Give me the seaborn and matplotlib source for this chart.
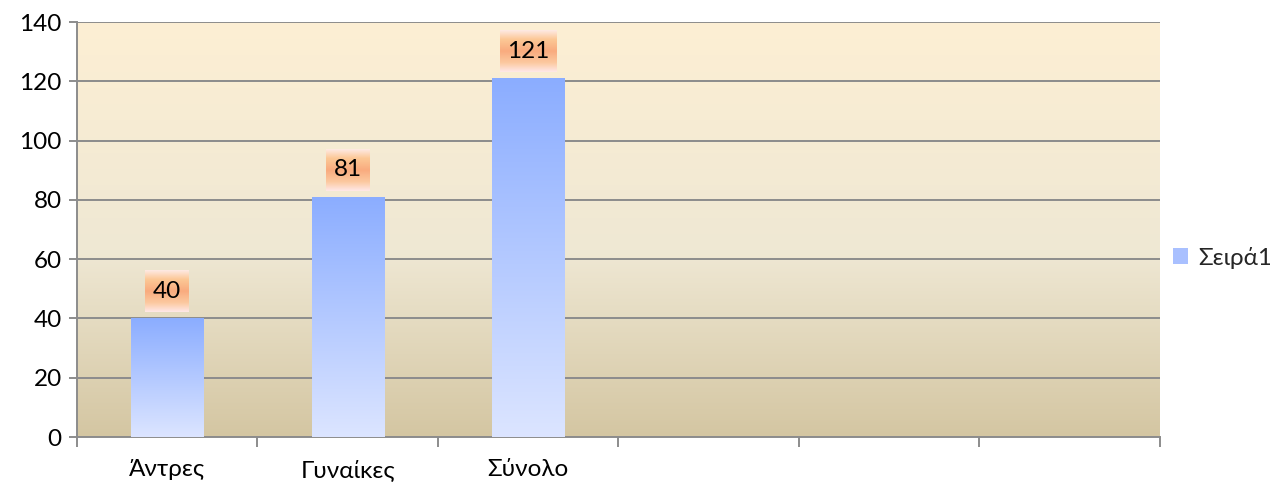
import numpy as np
import matplotlib
matplotlib.use("Agg")
import matplotlib.pyplot as plt
import seaborn as sns
from matplotlib.colors import LinearSegmentedColormap
from matplotlib.patches import Patch

# data
categories = ["Άντρες", "Γυναίκες", "Σύνολο"]
values = [40, 81, 121]
n_slots = 6  # chart keeps room for 6 categories
series_name = "Σειρά1"
y_ticks = [0, 20, 40, 60, 80, 100, 120, 140]

sns.set_theme(style="white")
plt.rcParams['font.family'] = ['Lato', 'DejaVu Sans']
FS = 17.5

fig = plt.figure(figsize=(12.7, 4.86), dpi=100)
ax = fig.add_axes([0.0606, 0.1008, 0.8524, 0.8539])

# background gradient (tan at bottom -> cream at top)
bg_cmap = LinearSegmentedColormap.from_list(
    "bg", [(0.0, "#d4c6a2"), (0.45, "#efe8d4"), (1.0, "#fdefd3")])
grad = np.linspace(0, 1, 256).reshape(-1, 1)
ax.imshow(grad, cmap=bg_cmap, origin="lower", aspect="auto",
          extent=[0, 1, 0, 1], transform=ax.transAxes, zorder=0)

sns.barplot(x=categories, y=values, width=0.4, color="#a9c0ff", ax=ax, zorder=2)

ax.set_xlim(-0.5, n_slots - 0.5)
ax.set_ylim(0, 140)
ax.set_yticks(y_ticks)

# bars: vertical blue gradient clipped to each bar
bar_cmap = LinearSegmentedColormap.from_list("bar", ["#dce5ff", "#8badff"])
for p in ax.patches:
    x0, y0, w, h = p.get_x(), p.get_y(), p.get_width(), p.get_height()
    im = ax.imshow(grad, cmap=bar_cmap, origin="lower", aspect="auto",
                   extent=[x0, x0 + w, y0, y0 + h], zorder=3)
    im.set_clip_path(p)
    p.set_facecolor("none")
    p.set_edgecolor("none")

# grid and axes
ax.yaxis.grid(True, color="#8c8c8c", linewidth=1.4, zorder=1)
ax.xaxis.grid(False)
ax.set_axisbelow(True)
for s in ["top", "right"]:
    ax.spines[s].set_visible(False)
for s in ["left", "bottom"]:
    ax.spines[s].set_color("#8c8c8c")
    ax.spines[s].set_linewidth(1.4)

ax.set_xticks(np.arange(-0.5, n_slots, 1.0))
ax.set_xticklabels([])
ax.set_xticks(range(len(categories)), minor=True)
ax.set_xticklabels(categories, minor=True)
ax.tick_params(axis="x", which="major", length=7, width=1.4, color="#8c8c8c",
               direction="out", bottom=True)
ax.tick_params(axis="x", which="minor", length=0, pad=16, labelsize=FS,
               labelcolor="black", bottom=True)
ax.tick_params(axis="y", length=6, width=1.4, color="#8c8c8c", direction="out",
               left=True, labelsize=FS, labelcolor="black", pad=5)
ax.set_xlabel("")
ax.set_ylabel("")

# data labels with orange gradient boxes
lab_cmap = LinearSegmentedColormap.from_list(
    "lab", [(0.0, "#ffe8e8"), (0.22, "#fcc9a0"), (0.5, "#f9ab7e"),
            (0.78, "#fcc896"), (1.0, "#feeae4")])
to_data = ax.transData.inverted()
for i, v in enumerate(values):
    bx, by = ax.transData.transform((i, v))
    w_px = 13 * len(str(v)) + 18
    x_l, y_b = to_data.transform((bx - w_px / 2, by + 6))
    x_r, y_t = to_data.transform((bx + w_px / 2, by + 48))
    ax.imshow(grad, cmap=lab_cmap, origin="lower", aspect="auto",
              extent=[x_l, x_r, y_b, y_t], zorder=4)
    ax.text(i, (y_b + y_t) / 2, str(v), ha="center", va="center",
            fontsize=FS, color="black", zorder=5)

ax.set_xlim(-0.5, n_slots - 0.5)
ax.set_ylim(0, 140)

# legend
handle = Patch(facecolor="#a9c0ff", edgecolor="none", label=series_name)
fig.legend(handles=[handle], loc="center left", bbox_to_anchor=(0.924, 0.47),
           frameon=False, fontsize=FS, handlelength=0.6, handleheight=0.6,
           handletextpad=0.4, borderaxespad=0, borderpad=0)

fig.savefig("out.png", dpi=100)
